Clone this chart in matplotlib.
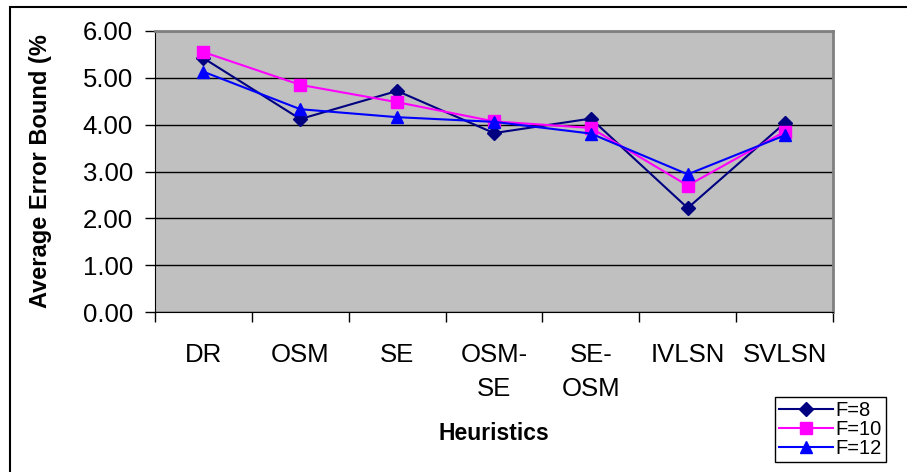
import matplotlib
matplotlib.use("Agg")
import matplotlib.pyplot as plt
from matplotlib.patches import Rectangle
from matplotlib.ticker import FixedLocator

plt.rcParams["font.family"] = ["Liberation Sans", "DejaVu Sans"]

heuristics = ["DR", "OSM", "SE", "OSM-\nSE", "SE-\nOSM", "IVLSN", "SVLSN"]
f8 = [5.42, 4.12, 4.72, 3.82, 4.13, 2.22, 4.03]
f10 = [5.55, 4.85, 4.48, 4.07, 3.93, 2.70, 3.85]
f12 = [5.13, 4.33, 4.16, 4.06, 3.81, 2.94, 3.77]
series_names = ["F=8", "F=10", "F=12"]

W, H = 907, 472
fig = plt.figure(figsize=(W / 100, H / 100), dpi=100)
ax = fig.add_axes([155 / W, 1 - 312 / H, (833 - 155) / W, (312 - 31) / H])
ax.set_facecolor("#C0C0C0")

x = range(len(heuristics))
ax.plot(x, f8, color="#000080", marker="D", ms=7.5, lw=1.5, label=series_names[0], zorder=3)
ax.plot(x, f10, color="#FF00FF", marker="s", ms=8, lw=1.5, label=series_names[1], zorder=3)
ax.plot(x, f12, color="#0000FF", marker="^", ms=9, lw=1.5, label=series_names[2], zorder=3)

ax.set_xlim(-0.5, len(heuristics) - 0.5)
ax.set_ylim(0, 6)
ax.set_yticks([0, 1, 2, 3, 4, 5, 6])
ax.set_yticklabels([f"{v:.2f}" for v in range(7)])
ax.yaxis.grid(True, color="black", lw=1)
ax.set_axisbelow(True)

ax.set_xticks(list(x))
ax.set_xticklabels(heuristics, linespacing=1.55)
ax.xaxis.set_minor_locator(FixedLocator([i - 0.5 for i in range(len(heuristics) + 1)]))
ax.tick_params(axis="x", which="major", length=0, pad=22, labelsize=18.5)
ax.tick_params(axis="x", which="minor", length=7, width=1, direction="out")
ax.tick_params(axis="y", length=7, width=1, direction="out", labelsize=18.5, pad=9)
for lab in ax.get_xticklabels():
    lab.set_verticalalignment("top")

ax.spines["left"].set_color("black")
ax.spines["bottom"].set_color("black")
ax.spines["top"].set_color("#808080")
ax.spines["right"].set_color("#808080")
ax.spines["top"].set_linewidth(2)
ax.spines["right"].set_linewidth(2)

ax.set_ylabel("Average Error Bound (%", fontsize=17, fontweight="bold")
ax.yaxis.set_label_coords((52 - 155) / (833 - 155), 0.5)
fig.text(494 / W, 1 - 433 / H, "Heuristics", fontsize=16.5, fontweight="bold",
         ha="center", va="center")

leg = ax.legend(loc="upper left", bbox_to_anchor=(775 / W, 1 - 397 / H),
                bbox_transform=fig.transFigure, fancybox=False, edgecolor="black",
                framealpha=1, fontsize=14.5, handlelength=2.7, labelspacing=0.0,
                borderpad=0.2, handletextpad=0.1, borderaxespad=0)
leg.get_frame().set_linewidth(1)

# outer chart frame
fig.patches.append(Rectangle((10 / W, -0.1), 1.2, 1 - 7 / H + 0.1,
                             transform=fig.transFigure, fill=False,
                             ec="black", lw=1.5))

fig.savefig("out.png", dpi=100)
